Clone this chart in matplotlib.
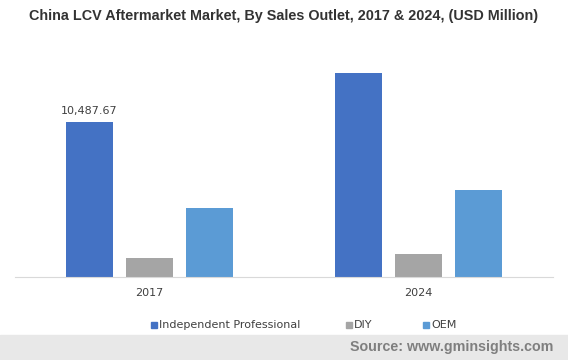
import matplotlib
matplotlib.use("Agg")
import matplotlib.pyplot as plt
from matplotlib.patches import Rectangle
import numpy as np

years = ["2017", "2024"]
series = ["Independent Professional", "DIY", "OEM"]
independent = [10487.67, 13810]
diy = [1268, 1539]
oem = [4678, 5878]
colors = ["#4472C4", "#A5A5A5", "#5B9BD5"]
values = [independent, diy, oem]

fig = plt.figure(figsize=(5.68, 3.60), dpi=100)
ax = fig.add_axes([15/568, 1-277/360, 538/568, 227/360])

x = np.arange(len(years))
w = 0.175
step = 0.223
for i, (name, vals, c) in enumerate(zip(series, values, colors)):
    ax.bar(x + (i-1)*step, vals, width=w, color=c, label=name, zorder=2)

ax.text(x[0]-step, independent[0] + 450, f"{independent[0]:,.2f}", ha="center", va="bottom",
        fontsize=8, color="#404040", family="DejaVu Sans")

ax.set_xlim(-0.5, 1.5)
ax.set_ylim(0, 227*67.8)
ax.set_yticks([])
for s in ["top", "right", "left"]:
    ax.spines[s].set_visible(False)
ax.spines["bottom"].set_color("#D9D9D9")
ax.set_xticks(x)
ax.set_xticklabels(years, fontsize=8, color="#404040", family="DejaVu Sans")
ax.tick_params(axis="x", length=0, pad=8)

fig.text(0.5, 1-16/360, "China LCV Aftermarket Market, By Sales Outlet, 2017 & 2024, (USD Million)",
         ha="center", va="center", fontsize=10.35, fontweight="bold", color="#333333",
         family="Liberation Sans")

# legend entries placed manually
leg_x = [151, 346, 423]
for lx, name, c in zip(leg_x, series, colors):
    fig.patches.append(Rectangle((lx/568, 1-328/360), 6/568, 6/360, transform=fig.transFigure,
                                 color=c, zorder=3))
    fig.text((lx+8)/568, 1-325/360, name, ha="left", va="center", fontsize=8,
             color="#404040", family="DejaVu Sans")

fig.patches.append(Rectangle((0, 0), 1, 25/360, transform=fig.transFigure,
                             color="#E8E8E8", zorder=0))
fig.text(553/568, 1-347/360, "Source: www.gminsights.com", ha="right", va="center",
         fontsize=10.3, fontweight="bold", color="#7F7F7F", family="Liberation Sans")

fig.savefig("out.png", dpi=100)
